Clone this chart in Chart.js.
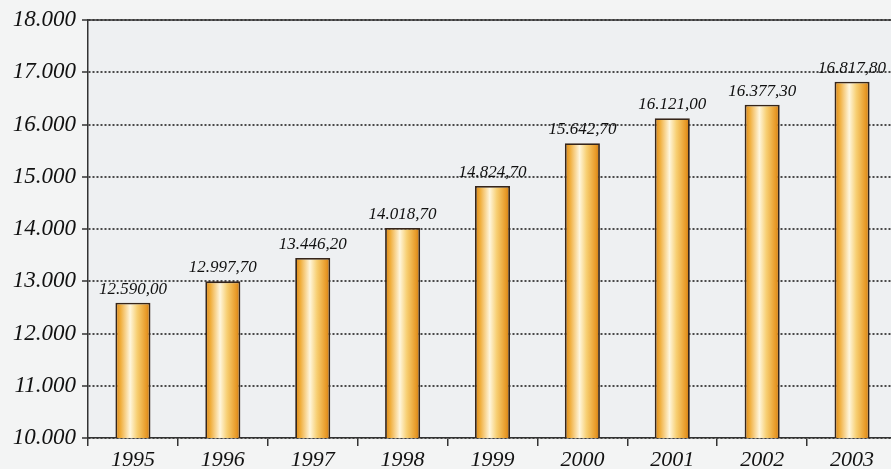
<!DOCTYPE html>
<html>
<head>
<meta charset="utf-8">
<script src="https://cdn.jsdelivr.net/npm/chart.js@4/dist/chart.umd.min.js"></script>
<style>
  html, body { margin: 0; padding: 0; overflow: hidden; background: #f2f3f4; }
  #wrap { width: 906px; height: 469px; position: relative; }
</style>
</head>
<body>
<div id="wrap"><canvas id="chart"></canvas></div>
<script>
// Daten
const years = ['1995', '1996', '1997', '1998', '1999', '2000', '2001', '2002', '2003'];
const values = [12590.00, 12997.70, 13446.20, 14018.70, 14824.70, 15642.70, 16121.00, 16377.30, 16817.80];
const yMin = 10000;
const yMax = 18000;
const yStep = 1000;

const SERIF = "'Liberation Serif', 'DejaVu Serif', serif";
const BAR_PCT = 0.39;

// 12.590,00 style
function fmt(v, dec) {
    const fixed = v.toFixed(dec);
    const parts = fixed.split('.');
    const intPart = parts[0].replace(/\B(?=(\d{3})+(?!\d))/g, '.');
    return dec > 0 ? intPart + ',' + parts[1] : intPart;
}

function barFill(context) {
    const chart = context.chart;
    const xs = chart.scales.x;
    if (!chart.chartArea || !xs || context.dataIndex === undefined) return '#eca838';
    const cx = xs.getPixelForValue(context.dataIndex);
    const half = (chart.chartArea.width / years.length) * BAR_PCT / 2;
    const g = chart.ctx.createLinearGradient(cx - half, 0, cx + half, 0);
    g.addColorStop(0.00, '#d98518');
    g.addColorStop(0.15, '#f0ae3c');
    g.addColorStop(0.42, '#fff6dc');
    g.addColorStop(0.62, '#f7cf72');
    g.addColorStop(0.88, '#e89a28');
    g.addColorStop(1.00, '#c97810');
    return g;
}

const backgroundPlugin = {
    id: 'bg',
    beforeDraw(chart) {
        const { ctx, chartArea } = chart;
        ctx.save();
        ctx.fillStyle = '#f3f4f4';
        ctx.fillRect(0, 0, chart.width, chart.height);
        ctx.fillStyle = '#eef0f2';
        ctx.fillRect(chartArea.left, chartArea.top, chartArea.width, chartArea.height);
        ctx.restore();
    },
    afterDraw(chart) {
        // durchgehende Linie oben
        const { ctx, chartArea } = chart;
        ctx.save();
        ctx.strokeStyle = '#333';
        ctx.lineWidth = 1.5;
        ctx.beginPath();
        ctx.moveTo(chartArea.left, chartArea.top);
        ctx.lineTo(chartArea.right, chartArea.top);
        ctx.stroke();
        ctx.restore();
    }
};

const valueLabels = {
    id: 'valueLabels',
    afterDatasetsDraw(chart) {
        const { ctx } = chart;
        const meta = chart.getDatasetMeta(0);
        ctx.save();
        ctx.font = 'italic 17px ' + SERIF;
        ctx.fillStyle = '#111';
        ctx.textAlign = 'center';
        ctx.textBaseline = 'alphabetic';
        meta.data.forEach((bar, i) => {
            ctx.fillText(fmt(values[i], 2), bar.x, bar.y - 9);
        });
        ctx.restore();
    }
};

new Chart(document.getElementById('chart'), {
    type: 'bar',
    data: {
        labels: years,
        datasets: [{
            data: values,
            backgroundColor: barFill,
            borderColor: '#35251a',
            borderWidth: 1.8,
            borderSkipped: false,
            barPercentage: BAR_PCT,
            categoryPercentage: 1.0
        }]
    },
    options: {
        responsive: true,
        maintainAspectRatio: false,
        animation: false,
        devicePixelRatio: 1,
        layout: { padding: { top: 20, right: 9, bottom: 0, left: 0 } },
        plugins: {
            legend: { display: false },
            tooltip: { enabled: false }
        },
        scales: {
            x: {
                grid: {
                    offset: true,
                    drawOnChartArea: false,
                    drawTicks: true,
                    tickLength: 8,
                    color: '#333',
                    lineWidth: 1.5
                },
                border: { display: true, color: '#333', width: 1.5 },
                ticks: {
                    color: '#111',
                    padding: 1,
                    font: { family: SERIF, size: 22, style: 'italic' }
                },
                afterFit(s) { s.height = 31; }
            },
            y: {
                min: yMin,
                max: yMax,
                grid: {
                    color: '#4a4a4a',
                    lineWidth: 2,
                    drawTicks: true,
                    tickLength: 6,
                    tickColor: '#333',
                    tickWidth: 1.5
                },
                border: { display: true, color: '#333', width: 1.5, dash: [2, 2] },
                ticks: {
                    stepSize: yStep,
                    color: '#111',
                    padding: 6,
                    font: { family: SERIF, size: 23, style: 'italic', weight: 'normal' },
                    callback: v => fmt(v, 0)
                },
                afterFit(s) { s.width = 88; }
            }
        }
    },
    plugins: [backgroundPlugin, valueLabels]
});
</script>
</body>
</html>
